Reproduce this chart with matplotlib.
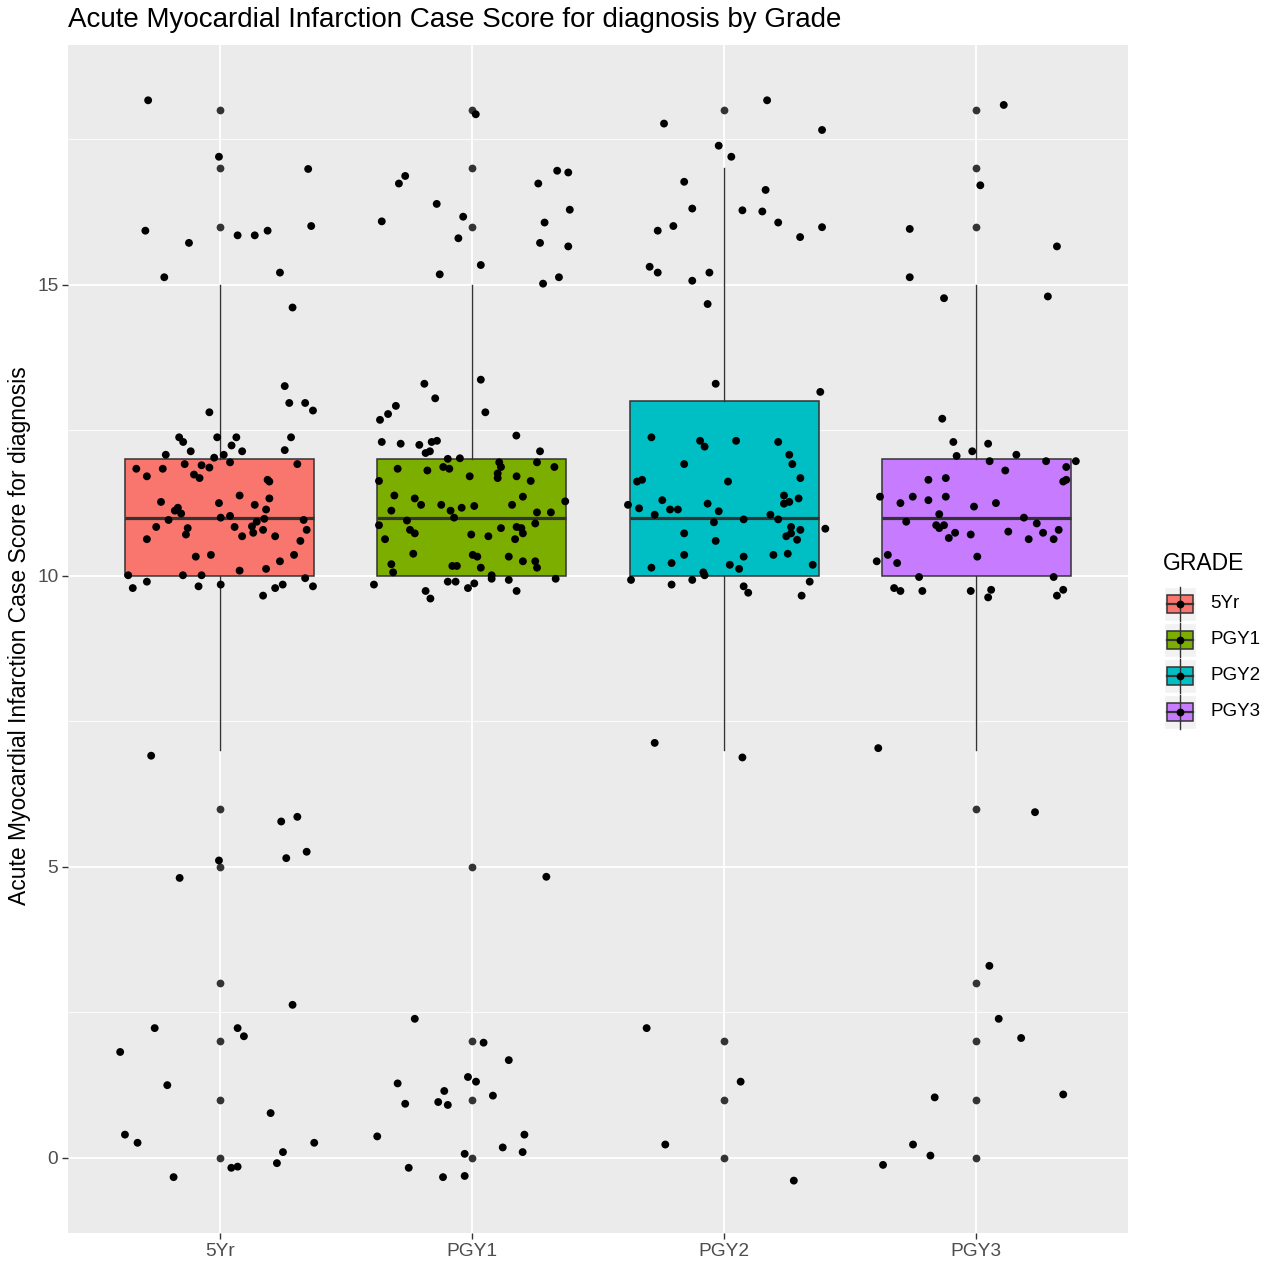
import matplotlib
matplotlib.use("Agg")
import matplotlib.pyplot as plt
from matplotlib.patches import Rectangle
from matplotlib.lines import Line2D

plt.rcParams['font.family'] = ['Liberation Sans', 'DejaVu Sans']

grades = ["5Yr", "PGY1", "PGY2", "PGY3"]
fills = ["#F8766D", "#7CAE00", "#00BFC4", "#C77CFF"]

# box summary per grade
q1 = [10, 10, 10, 10]
med = [11, 11, 11, 11]
q3 = [12, 12, 13, 12]
whis_lo = [7, 10, 7, 7]
whis_hi = [15, 15, 17, 15]
outliers = [
    [18, 17, 16, 6, 5, 3, 2, 1, 0],
    [18, 17, 16, 5, 2, 1, 0],
    [18, 2, 1, 0],
    [18, 17, 16, 6, 3, 2, 1, 0],
]

# jittered scores: horizontal offset from the grade position, score value
yr5_dx = [-0.285, -0.004, 0.350, -0.296, -0.123, 0.070, 0.138, 0.189, 0.362, -0.221,
          0.238, 0.288, 0.257, 0.275, 0.338, 0.369, -0.042, -0.162, -0.146, -0.011,
          0.065, 0.046, 0.088, -0.116, -0.215, 0.282, 0.257, -0.023, 0.015, -0.332,
          -0.290, -0.227, -0.140, -0.073, -0.042, 0.040, -0.103, -0.081, 0.307, 0.189,
          0.196, 0.078, -0.234, -0.004, 0.138, 0.196, 0.183, -0.167, -0.179, -0.154,
          0.003, 0.040, -0.204, -0.253, -0.128, -0.135, -0.290, 0.058, 0.127, 0.146,
          0.176, 0.132, 0.171, 0.088, 0.219, 0.332, 0.344, 0.319, 0.294, 0.238,
          -0.096, -0.036, 0.078, 0.183, -0.364, -0.346, -0.290, -0.147, -0.073, -0.085,
          0.003, 0.171, 0.219, 0.249, 0.338, 0.369, -0.273, 0.243, 0.307, 0.344,
          0.263, -0.004, -0.160, 0.288, -0.259, 0.070, 0.095, -0.396, -0.209, 0.201,
          -0.377, -0.327, 0.374, 0.250, 0.226, 0.045, 0.070, -0.184]
yr5_y = [18.17, 17.20, 16.99, 15.93, 15.72, 15.85, 15.85, 15.93, 16.01, 15.13,
         15.21, 14.61, 13.26, 12.97, 12.97, 12.84, 12.81, 12.38, 12.30, 12.38,
         12.38, 12.24, 12.14, 12.14, 12.08, 12.38, 12.16, 12.03, 12.08, 11.84,
         11.71, 11.84, 11.92, 11.90, 11.86, 11.95, 11.74, 11.68, 11.92, 11.65,
         11.62, 11.38, 11.27, 11.25, 11.22, 11.33, 11.14, 11.17, 11.12, 11.07,
         11.00, 11.03, 10.96, 10.84, 10.82, 10.71, 10.63, 10.84, 10.85, 10.93,
         10.98, 10.74, 10.79, 10.68, 10.68, 10.96, 10.79, 10.60, 10.36, 10.25,
         10.33, 10.36, 10.09, 10.12, 10.01, 9.79, 9.90, 10.01, 10.01, 9.82,
         9.85, 9.66, 9.79, 9.85, 9.96, 9.82, 6.91, 5.78, 5.86, 5.26,
         5.15, 5.11, 4.81, 2.63, 2.23, 2.23, 2.09, 1.82, 1.25, 0.77,
         0.40, 0.26, 0.26, 0.10, -0.09, -0.17, -0.15, -0.33]

pgy1_dx = [0.015, -0.265, -0.290, 0.338, 0.382, 0.263, -0.140, 0.388, -0.358, -0.035,
           0.288, -0.054, 0.270, 0.382, 0.035, -0.128, 0.345, 0.282, 0.035, -0.189,
           -0.146, -0.302, -0.333, -0.365, 0.053, 0.176, -0.358, -0.283, -0.209, -0.160,
           -0.139, -0.167, -0.184, 0.270, -0.096, -0.048, -0.295, -0.177, -0.114, -0.090,
           -0.369, -0.009, 0.108, 0.115, 0.102, 0.102, 0.177, 0.233, 0.258, 0.327,
           -0.308, -0.227, -0.202, -0.122, -0.041, 0.009, -0.085, -0.071, -0.320, 0.159,
           0.202, 0.258, 0.313, 0.370, -0.369, -0.258, -0.246, -0.227, -0.345, -0.003,
           0.065, 0.115, 0.177, 0.196, 0.202, 0.171, 0.251, -0.233, -0.320, -0.313,
           0.003, 0.021, 0.035, -0.078, -0.060, 0.146, 0.202, 0.251, 0.258, 0.078,
           0.078, 0.146, 0.332, -0.389, -0.096, -0.065, 0.009, -0.016, -0.184, -0.165,
           0.177, 0.295, -0.227, 0.046, 0.146, -0.295, -0.016, 0.016, -0.110, -0.134,
           -0.096, -0.265, 0.083, -0.376, 0.208, 0.122, 0.201, -0.029, -0.251, -0.115,
           -0.029]
pgy1_y = [17.93, 16.87, 16.74, 16.96, 16.93, 16.74, 16.39, 16.29, 16.09, 16.17,
          16.07, 15.80, 15.72, 15.66, 15.34, 15.18, 15.13, 15.02, 13.37, 13.30,
          13.05, 12.92, 12.78, 12.68, 12.81, 12.41, 12.30, 12.27, 12.25, 12.30,
          12.32, 12.14, 12.11, 12.14, 12.01, 12.02, 11.84, 11.81, 11.87, 11.84,
          11.63, 11.71, 11.95, 11.87, 11.76, 11.68, 11.71, 11.63, 11.95, 11.87,
          11.38, 11.33, 11.22, 11.22, 11.17, 11.20, 11.12, 11.00, 11.12, 11.22,
          11.36, 11.09, 11.09, 11.28, 10.87, 10.95, 10.79, 10.73, 10.63, 10.71,
          10.68, 10.82, 10.84, 10.82, 10.73, 10.63, 10.90, 10.38, 10.20, 10.06,
          10.36, 10.33, 10.14, 10.17, 10.17, 10.33, 10.25, 10.25, 10.14, 10.01,
          9.95, 9.93, 9.95, 9.85, 9.90, 9.90, 9.87, 9.79, 9.74, 9.61,
          9.74, 4.83, 2.39, 1.98, 1.68, 1.28, 1.39, 1.31, 1.15, 0.96,
          0.91, 0.93, 1.07, 0.37, 0.40, 0.18, 0.10, 0.07, -0.17, -0.33,
          -0.31]

pgy2_dx = [0.171, -0.238, 0.389, -0.021, 0.029, -0.158, 0.165, -0.126, 0.073, 0.152,
           0.215, 0.389, -0.263, -0.201, 0.302, -0.295, -0.263, -0.058, -0.126, -0.065,
           -0.033, 0.382, -0.288, -0.095, -0.077, 0.048, 0.215, 0.259, 0.271, -0.158,
           -0.345, -0.325, 0.016, 0.303, -0.245, -0.065, 0.238, 0.238, 0.259, 0.296,
           -0.381, -0.337, -0.214, -0.183, -0.275, -0.021, 0.184, 0.078, 0.215, -0.040,
           0.402, 0.266, 0.303, 0.247, 0.266, 0.290, -0.158, -0.033, -0.158, -0.288,
           -0.208, 0.023, 0.060, 0.078, 0.196, 0.253, 0.352, -0.082, -0.077, -0.369,
           -0.208, -0.126, 0.078, 0.096, 0.308, 0.340, -0.275, 0.073, -0.307, 0.066,
           -0.233, 0.277]
pgy2_y = [18.17, 17.77, 17.66, 17.39, 17.20, 16.77, 16.63, 16.31, 16.28, 16.26,
          16.07, 15.99, 15.93, 16.01, 15.82, 15.31, 15.21, 15.21, 15.07, 14.67,
          13.30, 13.16, 12.38, 12.32, 12.22, 12.32, 12.30, 12.08, 11.92, 11.92,
          11.62, 11.65, 11.62, 11.68, 11.30, 11.24, 11.38, 11.24, 11.27, 11.33,
          11.22, 11.16, 11.14, 11.14, 11.05, 11.11, 11.05, 10.97, 10.97, 10.92,
          10.81, 10.84, 10.79, 10.68, 10.73, 10.62, 10.73, 10.60, 10.36, 10.14,
          10.22, 10.19, 10.12, 10.33, 10.36, 10.38, 10.19, 10.06, 10.01, 9.93,
          9.85, 9.93, 9.82, 9.71, 9.66, 9.90, 7.13, 6.88, 2.23, 1.31,
          0.23, -0.39]

pgy3_dx = [0.110, 0.017, -0.263, 0.321, -0.263, -0.127, 0.285, -0.134, -0.090, 0.048,
           -0.015, -0.077, 0.160, 0.054, 0.278, 0.396, 0.358, 0.116, -0.189, -0.120,
           0.346, 0.358, -0.381, -0.251, -0.300, -0.189, -0.120, -0.008, 0.079, -0.146,
           -0.277, -0.158, -0.127, -0.146, -0.083, -0.108, -0.021, 0.128, 0.190, 0.241,
           0.266, 0.209, 0.308, 0.328, -0.394, -0.350, -0.313, 0.005, -0.226, -0.325,
           -0.300, -0.213, -0.021, 0.060, 0.048, 0.308, 0.346, 0.321, -0.388, 0.234,
           0.053, 0.090, 0.179, -0.164, 0.346, -0.250, -0.181, -0.369]
pgy3_y = [18.09, 16.71, 15.96, 15.66, 15.13, 14.77, 14.80, 12.70, 12.30, 12.27,
          12.14, 12.06, 12.08, 11.97, 11.97, 11.97, 11.87, 11.81, 11.65, 11.68,
          11.62, 11.65, 11.36, 11.36, 11.25, 11.30, 11.36, 11.19, 11.25, 11.06,
          10.93, 10.87, 10.87, 10.82, 10.74, 10.65, 10.71, 10.76, 11.00, 10.90,
          10.74, 10.63, 10.63, 10.79, 10.25, 10.36, 10.22, 10.33, 9.98, 9.79,
          9.74, 9.74, 9.74, 9.76, 9.63, 9.98, 9.76, 9.66, 7.04, 5.94,
          3.30, 2.39, 2.06, 1.04, 1.09, 0.23, 0.04, -0.12]

jitter_dx = [yr5_dx, pgy1_dx, pgy2_dx, pgy3_dx]
jitter_y = [yr5_y, pgy1_y, pgy2_y, pgy3_y]

W = 1269
fig = plt.figure(figsize=(W / 100, W / 100), dpi=100)
fig.patch.set_facecolor("white")
ax = fig.add_axes([68 / W, 1 - 1233 / W, (1128 - 68) / W, (1233 - 45) / W])
ax.set_facecolor("#EBEBEB")
for s in ax.spines.values():
    s.set_visible(False)

ax.set_xlim(1 - 0.603, 4 + 0.603)
ax.set_ylim(-1.29, 19.12)
ax.set_yticks([0, 5, 10, 15])
ax.set_yticks([2.5, 7.5, 12.5, 17.5], minor=True)
ax.grid(which="major", color="white", linewidth=1.3)
ax.grid(which="minor", axis="y", color="white", linewidth=0.6)
ax.set_axisbelow(True)
ax.tick_params(which="major", length=4, width=1.0, color="#333333",
               labelsize=13.8, labelcolor="#4D4D4D", pad=3)
ax.tick_params(which="minor", length=0)

stats = []
for i, g in enumerate(grades):
    stats.append(dict(label=g, q1=q1[i], med=med[i], q3=q3[i],
                      whislo=whis_lo[i], whishi=whis_hi[i], fliers=outliers[i]))
bp = ax.bxp(stats, positions=[1, 2, 3, 4], widths=0.75, patch_artist=True,
            showcaps=False, showfliers=True,
            boxprops=dict(edgecolor="#333333", linewidth=1.1),
            medianprops=dict(color="#333333", linewidth=2.3),
            whiskerprops=dict(color="#333333", linewidth=1.0),
            flierprops=dict(marker="o", markersize=5.6, markerfacecolor="#333333",
                            markeredgecolor="none"),
            zorder=2)
for patch, c in zip(bp["boxes"], fills):
    patch.set_facecolor(c)

for i in range(4):
    xs = [i + 1 + d for d in jitter_dx[i]]
    ax.scatter(xs, jitter_y[i], s=32, color="black", edgecolors="none", zorder=3)

ax.set_xticks([1, 2, 3, 4])
ax.set_xticklabels(grades)

fig.text(68 / W, 1 - 20 / W, "Acute Myocardial Infarction Case Score for diagnosis by Grade",
         fontsize=20, ha="left", va="center", color="black")
fig.text(20 / W, 1 - 636 / W, "Acute Myocardial Infarction Case Score for diagnosis",
         fontsize=16.5, rotation=90, ha="center", va="center", color="black")

# legend
fig.text(1163 / W, 1 - 563 / W, "GRADE", fontsize=16.5, ha="left", va="center")
key_w, key_h = 32 / W, 34 / W
for i, (g, c) in enumerate(zip(grades, fills)):
    cy = 1 - (604 + 36 * i) / W
    kx = 1164 / W
    fig.patches.append(Rectangle((kx, cy - key_h / 2), key_w, key_h,
                                 transform=fig.transFigure, facecolor="#F2F2F2",
                                 edgecolor="white", linewidth=1))
    mid = kx + key_w / 2
    fig.lines.append(Line2D([mid, mid], [cy - key_h / 2, cy + key_h / 2],
                            transform=fig.transFigure, color="#333333", linewidth=1.0))
    fig.patches.append(Rectangle((kx + 3 / W, cy - 9 / W), key_w - 6 / W, 18 / W,
                                 transform=fig.transFigure, facecolor=c,
                                 edgecolor="#333333", linewidth=1.1))
    fig.lines.append(Line2D([kx + 3 / W, kx + key_w - 3 / W], [cy, cy],
                            transform=fig.transFigure, color="#333333", linewidth=1.6))
    fig.lines.append(Line2D([mid], [cy], transform=fig.transFigure, marker="o",
                            markersize=5.6, color="black", markeredgecolor="none"))
    fig.text(1210 / W, cy, g, fontsize=13.5, ha="left", va="center")

fig.savefig("out.png", dpi=100)
